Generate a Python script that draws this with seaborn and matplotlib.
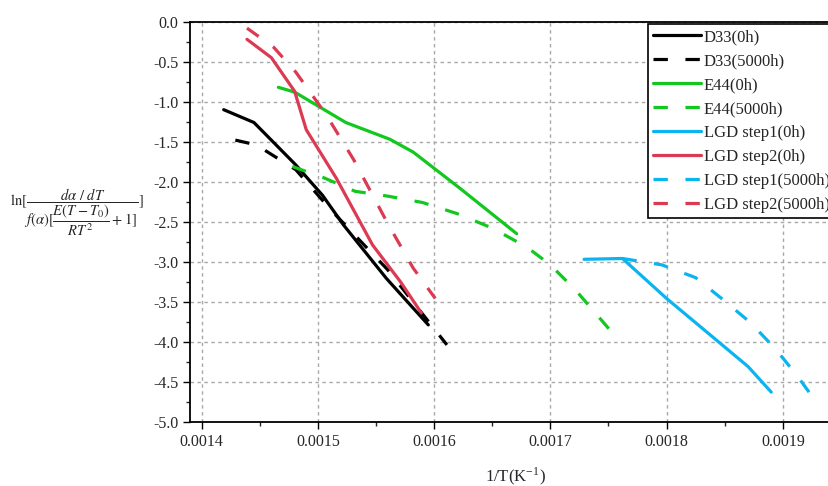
import matplotlib
matplotlib.use("Agg")
import matplotlib.pyplot as plt
import seaborn as sns
import numpy as np
import pandas as pd
from matplotlib.ticker import MultipleLocator, FormatStrFormatter

# ---- data ----
d33_0h_x = [0.001419, 0.001445, 0.001481, 0.001504, 0.001522, 0.001559, 0.001595]
d33_0h_y = [-1.10, -1.26, -1.79, -2.17, -2.54, -3.21, -3.79]

d33_5000h_x = [0.001429, 0.001447, 0.001481, 0.001511, 0.001560, 0.001611]
d33_5000h_y = [-1.48, -1.54, -1.85, -2.35, -3.10, -4.04]

e44_0h_x = [0.001466, 0.001480, 0.001524, 0.001562, 0.001582, 0.001622, 0.001671]
e44_0h_y = [-0.82, -0.88, -1.26, -1.47, -1.63, -2.08, -2.65]

e44_5000h_x = [0.001478, 0.001505, 0.001532, 0.001560, 0.001590, 0.001620, 0.001650,
               0.001680, 0.001700, 0.001722, 0.001751]
e44_5000h_y = [-1.81, -1.95, -2.12, -2.18, -2.26, -2.40, -2.58, -2.82, -3.04, -3.36, -3.85]

lgd1_0h_x = [0.001729, 0.001762, 0.001800, 0.001870, 0.001890]
lgd1_0h_y = [-2.97, -2.96, -3.46, -4.31, -4.63]

lgd2_0h_x = [0.001439, 0.001460, 0.001480, 0.001490, 0.001516, 0.001547, 0.001571, 0.001589]
lgd2_0h_y = [-0.22, -0.45, -0.87, -1.35, -1.96, -2.79, -3.25, -3.64]

lgd1_5000h_x = [0.001762, 0.001796, 0.001825, 0.001849, 0.001872, 0.001893, 0.001912, 0.001930]
lgd1_5000h_y = [-2.96, -3.04, -3.20, -3.48, -3.76, -4.08, -4.42, -4.78]

lgd2_5000h_x = [0.001439, 0.001462, 0.001481, 0.001507, 0.001531, 0.001560, 0.001582, 0.001601]
lgd2_5000h_y = [-0.08, -0.32, -0.63, -1.16, -1.73, -2.52, -3.08, -3.46]

labels = ["D33(0h)", "D33(5000h)", "E44(0h)", "E44(5000h)",
          "LGD step1(0h)", "LGD step2(0h)", "LGD step1(5000h)", "LGD step2(5000h)"]

BLACK, GREEN, BLUE, RED = "#000000", "#12C81E", "#0AB4F0", "#DC3A52"
series = [
    (d33_0h_x, d33_0h_y, BLACK, False),
    (d33_5000h_x, d33_5000h_y, BLACK, True),
    (e44_0h_x, e44_0h_y, GREEN, False),
    (e44_5000h_x, e44_5000h_y, GREEN, True),
    (lgd1_0h_x, lgd1_0h_y, BLUE, False),
    (lgd2_0h_x, lgd2_0h_y, RED, False),
    (lgd1_5000h_x, lgd1_5000h_y, BLUE, True),
    (lgd2_5000h_x, lgd2_5000h_y, RED, True),
]

sns.set_style("ticks")
plt.rcParams["font.family"] = ["Liberation Serif", "DejaVu Serif"]
plt.rcParams["mathtext.fontset"] = "stix"
plt.rcParams["axes.unicode_minus"] = False

fig = plt.figure(figsize=(8.29, 4.86), dpi=100)
ax = fig.add_axes([190 / 829, 64.3 / 486, 651 / 829, 400 / 486])

for (xs, ys, col, dashed), lab in zip(series, labels):
    df = pd.DataFrame({"x": xs, "y": ys})
    sns.lineplot(data=df, x="x", y="y", ax=ax, color=col, label=lab,
                 sort=False, estimator=None, linewidth=2.3)
    line = ax.lines[-1]
    if dashed:
        line.set_dashes((4.5, 5.5))

ax.set_xlim(0.00139, 0.00195)
ax.set_ylim(-5.0, 0.0)
ax.xaxis.set_major_locator(MultipleLocator(0.0001))
ax.xaxis.set_minor_locator(MultipleLocator(0.00005))
ax.yaxis.set_major_locator(MultipleLocator(0.5))
ax.yaxis.set_minor_locator(MultipleLocator(0.25))
ax.xaxis.set_major_formatter(FormatStrFormatter("%.4f"))
ax.yaxis.set_major_formatter(FormatStrFormatter("%.1f"))
ax.tick_params(axis="both", which="major", labelsize=11.5, length=5, width=1,
               direction="out", color="black")
ax.tick_params(axis="both", which="minor", length=3, width=1, direction="out")
ax.grid(True, which="major", color="#a8a8a8", linestyle=(0, (2.5, 2.5)), linewidth=1)

for s in ax.spines.values():
    s.set_visible(True)
    s.set_color("black")
    s.set_linewidth(1.3)

ax.set_xlabel(r"1/T(K$^{\mathregular{-1}}$)", fontsize=12, labelpad=11)
ax.set_ylabel(r"$\ln[\dfrac{d\alpha\ /\ dT}{f(\alpha)[\dfrac{E(T-T_0)}{RT^2}+1]}]$",
              fontsize=10.5, rotation=0, va="center", ha="center")
ax.yaxis.set_label_coords(-0.174, 0.523)

leg = ax.legend(loc="upper left", bbox_to_anchor=(648 / 829, 1 - 24 / 486),
                bbox_transform=fig.transFigure, borderaxespad=0, fontsize=12,
                handlelength=2.9, handletextpad=0.15, labelspacing=0.48,
                frameon=True, fancybox=False, borderpad=0.3)
leg.get_frame().set_edgecolor("black")
leg.get_frame().set_linewidth(1.2)
leg.get_frame().set_alpha(1)

fig.savefig("out.png", dpi=100)
